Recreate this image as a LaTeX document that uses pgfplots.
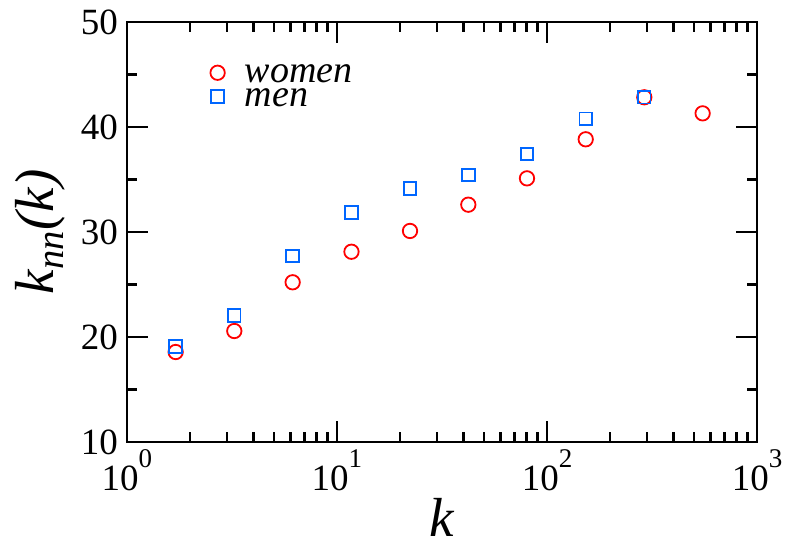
\documentclass[border=0pt]{standalone}
\usepackage{fontspec}
\setmainfont{Liberation Serif}
\usepackage{pgfplots}
\pgfplotsset{compat=1.18}

\definecolor{wred}{RGB}{255,0,0}
\definecolor{mblue}{RGB}{0,102,255}

% average nearest-neighbour degree k_nn(k) against degree k
\pgfplotstableread{
k       knn
1.705   18.57
3.243   20.57
6.15    25.21
11.72   28.12
22.27   30.10
42.2    32.60
80.3    35.11
152.9   38.83
290.6   42.83
551     41.30
}\women

\pgfplotstableread{
k       knn
1.705   19.08
3.243   22.03
6.15    27.71
11.72   31.84
22.27   34.16
42.2    35.43
80.3    37.43
152.9   40.79
290.6   42.83
}\men

\newcommand{\tl}[1]{10\raisebox{23pt}{\fontsize{27}{27}\selectfont #1}}

\begin{document}
\begin{tikzpicture}
\begin{axis}[
  scale only axis,
  width=630pt, height=420pt,
  xmode=log,
  xmin=1, xmax=1000,
  ymin=10, ymax=50,
  xtick={1,10,100,1000},
  xticklabels={\tl{0},\tl{1},\tl{2},\tl{3}},
  ytick={10,20,30,40,50},
  minor y tick num=1,
  tick align=inside,
  major tick length=21pt,
  minor tick length=10pt,
  every tick/.style={black, line width=2.4pt},
  axis line style={line width=2.6pt},
  tick label style={font=\fontsize{37}{37}\selectfont, inner sep=0pt},
  xticklabel style={anchor=base, yshift=-49pt},
  yticklabel style={anchor=base east, xshift=-9pt, yshift=-13pt,
    /pgf/number format/assume math mode=true},
  xlabel={\textit{k}},
  ylabel={\textit{k}\textsubscript{\textit{nn}}\textit{(k)}},
  label style={font=\fontsize{55}{55}\selectfont, inner sep=0pt},
  xlabel style={at={(axis description cs:0.5,-0.224)}, anchor=base},
  ylabel style={at={(axis description cs:-0.1159,0.5)}, anchor=base},
  legend image code/.code={\draw[#1] plot coordinates {(0pt,-3.2pt)};},
  legend style={draw=none, fill=none, inner sep=0pt,
    at={(axis description cs:0.1321,0.9182)}, anchor=north west,
    font=\fontsize{38}{38}\selectfont\itshape,
    row sep=-2.2pt, column sep=20pt,
    nodes={inner sep=0pt, text height=26pt, text depth=0pt}},
  legend cell align=left,
]
\addplot[only marks, mark=o, mark size=7.2pt, color=wred,
  mark options={line width=1.8pt}] table[x=k, y=knn] {\women};
\addlegendentry{women}
\addplot[only marks, mark=square, mark size=6.3pt, color=mblue,
  mark options={line width=1.8pt}] table[x=k, y=knn] {\men};
\addlegendentry{men}
\end{axis}
\pgfresetboundingbox
\path[use as bounding box] (-127pt,-103pt) rectangle (658pt,442pt);
\end{tikzpicture}
\end{document}
